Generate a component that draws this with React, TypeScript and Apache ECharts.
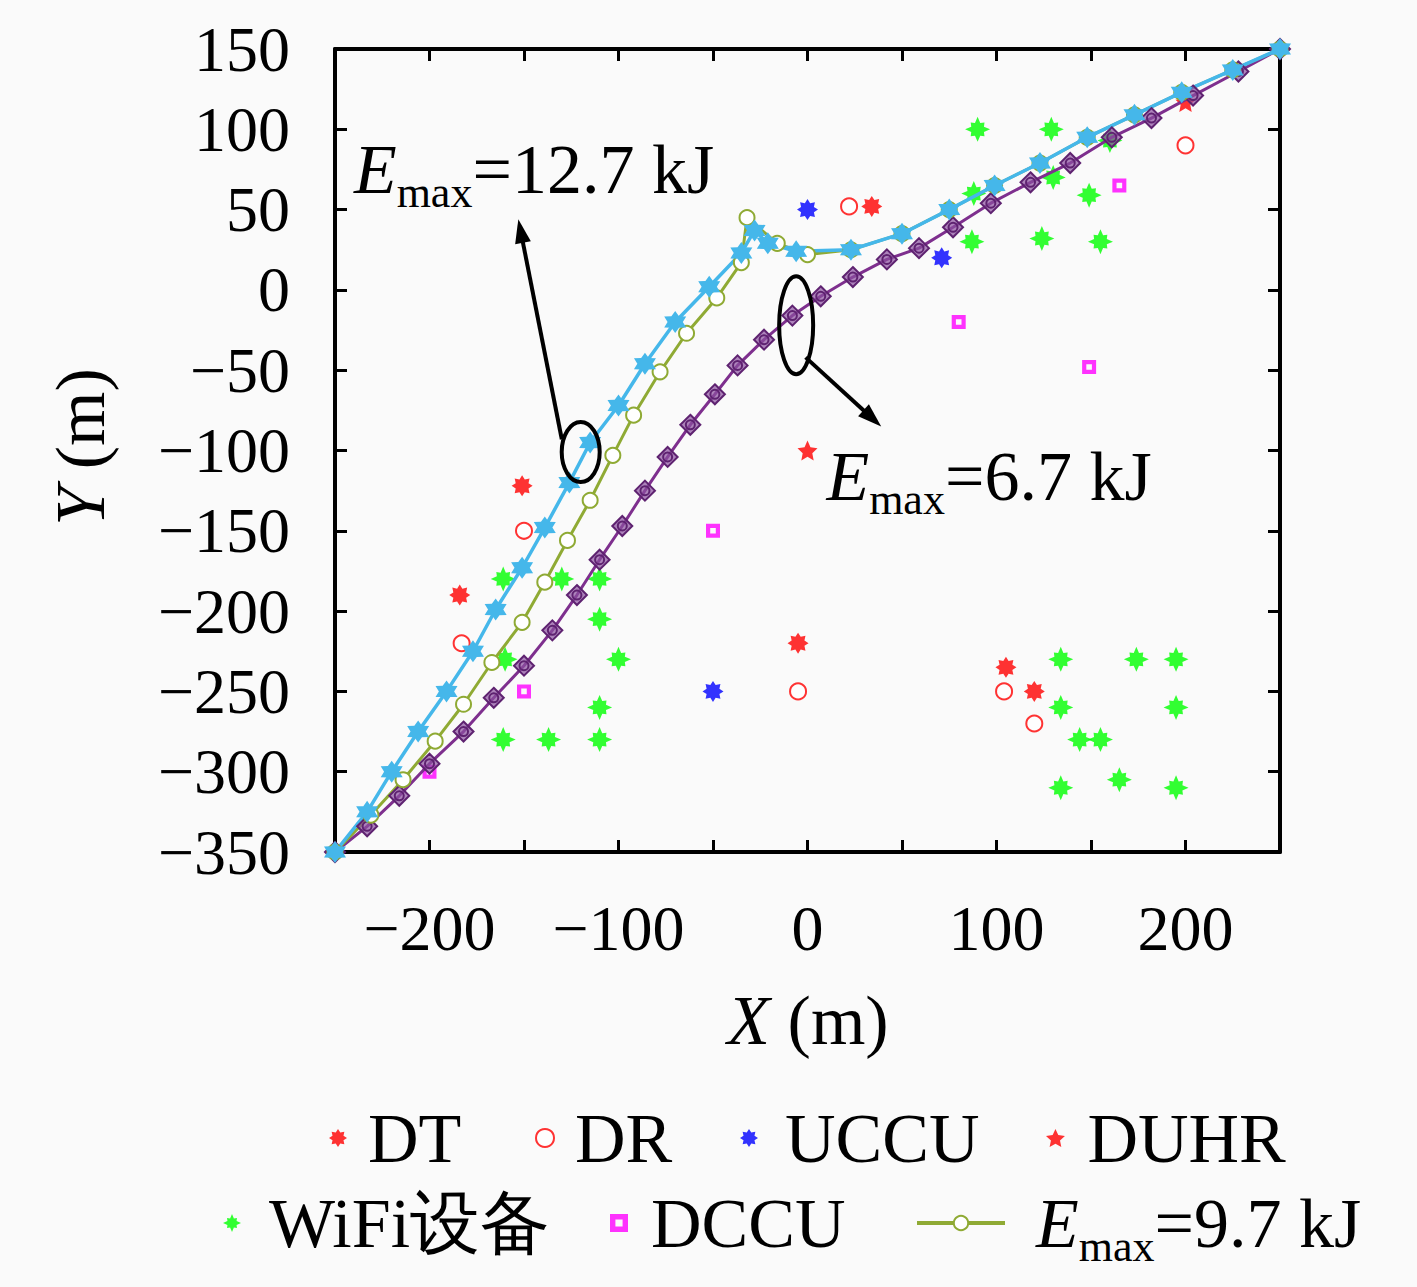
import React, { useEffect, useRef } from "react";
import * as echarts from "echarts";

// ---------------- data ----------------
const traj127: number[][] = [
  [-250, -350], [-233, -325], [-220, -300], [-206, -275], [-191, -250], [-177, -225],
  [-165, -199], [-151, -173], [-139, -148], [-126, -120], [-115, -95], [-100, -72],
  [-86, -46], [-70, -20], [-52, 2], [-35, 23], [-28, 37], [-21, 29], [-6, 24],
  [23, 25], [50, 35], [75, 50], [99, 65], [123, 79], [148, 95], [173, 109],
  [198, 123], [225, 137], [250, 150],
];
const traj97: number[][] = [
  [-250, -350], [-231, -327], [-214, -305], [-197, -281], [-182, -258], [-167, -232],
  [-151, -207], [-139, -182], [-127, -156], [-115, -131], [-103, -103], [-92, -78],
  [-78, -51], [-64, -27], [-48, -5], [-35, 17], [-32, 45], [-16, 29], [0, 22],
  [23, 25], [50, 35], [75, 50], [99, 65], [123, 79], [148, 95], [173, 109],
  [198, 123], [225, 137], [250, 150],
];
const traj67: number[][] = [
  [-250, -350], [-233, -334], [-216, -315], [-200, -295], [-182, -275], [-166, -254],
  [-150, -234], [-135, -212], [-122, -190], [-110, -168], [-98, -147], [-86, -125],
  [-74, -104], [-62, -84], [-49, -65], [-37, -47], [-23, -31], [-8, -16], [7, -4],
  [24, 8], [42, 19], [59, 26], [77, 39], [97, 54], [118, 67], [139, 79], [161, 95],
  [182, 107], [204, 121], [228, 136], [250, 150],
];
const dtPoints: number[][] = [[-151, -122], [-184, -190], [-5, -220], [105, -235], [120, -250], [34, 52]];
const drPoints: number[][] = [[-150, -150], [-183, -220], [-5, -250], [22, 52], [104, -250], [120, -270], [200, 90]];
const uccuPoints: number[][] = [[0, 50], [71, 20], [-50, -250]];
const duhrPoints: number[][] = [[0, -100], [200, 117]];
const wifiPoints: number[][] = [
  [-161, -180], [-130, -180], [-110, -180], [-110, -205], [-100, -230], [-160, -230],
  [-110, -260], [-161, -280], [-137, -280], [-110, -280],
  [134, -230], [174, -230], [195, -230], [134, -260], [195, -260], [144, -280],
  [155, -280], [134, -310], [165, -305], [195, -310],
  [90, 100], [129, 100], [88, 60], [130, 70], [149, 59], [87, 30], [124, 32],
  [155, 30], [160, 93],
];
const dccuPoints: number[][] = [[80, -20], [149, -48], [165, 65], [-50, -150], [-150, -250], [-200, -300]];

const xMin = -250, xMax = 250, xStep = 50;
const yMin = -350, yMax = 150, yStep = 50;
const xLabelStep = 100;

const label127 = "=12.7 kJ";
const label97 = "=9.7 kJ";
const label67 = "=6.7 kJ";

// ---------------- styles ----------------
const FONT = "Liberation Serif";
const BG = "#fafafa";
const CYAN = "#45B7EA";
const OLIVE = "#8FAA34";
const PURPLE = "#7E2F8E";

function starPath(radii: number[]) {
  const n = radii.length;
  const pts = radii.map((r, i) => {
    const a = -Math.PI / 2 + (i * 2 * Math.PI) / n;
    return (r * Math.cos(a) * 50).toFixed(2) + "," + (r * Math.sin(a) * 50).toFixed(2);
  });
  return "path://M" + pts.join("L") + "Z";
}
const asteriskSym = starPath(Array.from({ length: 16 }, (_, i) => (i % 2 === 0 ? 1 : 0.66)));
const hexSym = starPath(Array.from({ length: 12 }, (_, i) => (i % 2 === 0 ? 1 : 0.6)));
const star5Sym = starPath(Array.from({ length: 10 }, (_, i) => (i % 2 === 0 ? 1 : 0.48)));
const wifiSym = starPath(Array.from({ length: 16 }, (_, i) => (i % 2 === 1 ? 0.55 : i % 4 === 0 ? 1 : 0.78)));
const diamondSym = "path://M0,-10L10,0L0,10L-10,0Z M4.5,0A4.5,4.5 0 1,1 -4.5,0A4.5,4.5 0 1,1 4.5,0Z";
const squareSym = "path://M0,0H10V10H0Z M3,3V7H7V3Z";

const fmt = (v: number) => (v < 0 ? "\u2212" + Math.abs(v) : String(v));

const richSub = (c: string, padLeft = 0) => ({
  e: { fontFamily: FONT, fontStyle: "italic", fontSize: 70, lineHeight: 80, color: c, fill: c, padding: [0, 0, 0, padLeft] },
  s: { fontFamily: FONT, fontSize: 44, lineHeight: 44, color: c, fill: c, padding: [46, 0, 0, 0] },
  n: { fontFamily: FONT, fontSize: 70, lineHeight: 80, color: c, fill: c },
});

const axisCommon = {
  type: "value" as const,
  axisLine: { onZero: false, lineStyle: { color: "#000", width: 4 } },
  axisTick: { inside: true, length: 12, lineStyle: { color: "#000", width: 3 } },
  splitLine: { show: false },
};

function legendItem(name: string, left: number, top: number, itemWidth: number, extra: any = {}) {
  return {
    data: [name],
    left,
    top,
    itemWidth,
    itemHeight: 18,
    padding: 0,
    selectedMode: false,
    textStyle: { fontFamily: FONT, fontSize: 70, color: "#000", lineHeight: 80 },
    ...extra,
  };
}

const option: any = {
  animation: false,
  backgroundColor: BG,
  grid: { left: 335, right: 137, top: 49, bottom: 435, containLabel: false, outerBoundsMode: "none" },
  xAxis: [
    {
      ...axisCommon, min: xMin, max: xMax, interval: xStep, position: "bottom",
      axisLabel: {
        formatter: (v: number) => (v % xLabelStep === 0 && v > xMin && v < xMax ? fmt(v) : ""),
        fontFamily: FONT, fontSize: 64, color: "#000", margin: 40, lineHeight: 72,
      },
    },
    { ...axisCommon, min: xMin, max: xMax, interval: xStep, position: "top", axisLabel: { show: false } },
  ],
  yAxis: [
    {
      ...axisCommon, min: yMin, max: yMax, interval: yStep, position: "left",
      axisLabel: { formatter: (v: number) => fmt(v), fontFamily: FONT, fontSize: 64, color: "#000", margin: 45 },
    },
    { ...axisCommon, min: yMin, max: yMax, interval: yStep, position: "right", axisLabel: { show: false } },
  ],
  legend: [
    legendItem("DT", 329, 1098, 50),
    legendItem("DR", 535, 1098, 50),
    legendItem("UCCU", 740, 1098, 62),
    legendItem("DUHR", 1046, 1098, 54),
    legendItem("WiFi设备", 223, 1183, 64),
    legendItem("DCCU", 610, 1183, 54),
    legendItem("Emax=9.7 kJ", 915, 1178, 88, {
      formatter: () => "{e|E}{s|max}{n|" + label97 + "}",
      textStyle: { fontFamily: FONT, fontSize: 70, color: "#000", rich: richSub("#000", 26) },
      lineStyle: { width: 4 },
    }),
  ],
  series: [
    { name: "DCCU", type: "scatter", data: dccuPoints, symbol: squareSym, symbolSize: 14,
      itemStyle: { color: "#FF00FF" } },
    { name: "WiFi设备", type: "scatter", data: wifiPoints, symbol: wifiSym, symbolSize: 25, itemStyle: { color: "#00FF00" } },
    { name: "DT", type: "scatter", data: dtPoints, symbol: asteriskSym, symbolSize: 21, itemStyle: { color: "#FF0000" } },
    { name: "DR", type: "scatter", data: drPoints, symbol: "emptyCircle", symbolSize: 16,
      itemStyle: { color: "#FF0000", borderColor: "#FF0000", borderWidth: 3 } },
    { name: "UCCU", type: "scatter", data: uccuPoints, symbol: asteriskSym, symbolSize: 21, itemStyle: { color: "#0000FF" } },
    { name: "DUHR", type: "scatter", data: duhrPoints, symbol: star5Sym, symbolSize: 20, itemStyle: { color: "#FF0000" } },
    { name: "Emax=6.7 kJ", type: "line", data: traj67, symbol: diamondSym, symbolSize: 20, showSymbol: true,
      lineStyle: { color: PURPLE, width: 3 },
      itemStyle: { color: "rgba(140,80,160,0.7)", borderColor: "#5E2270", borderWidth: 2 } },
    { name: "Emax=9.7 kJ", type: "line", data: traj97, symbol: "emptyCircle", symbolSize: 15, showSymbol: true,
      lineStyle: { color: OLIVE, width: 3 },
      itemStyle: { color: OLIVE, borderColor: OLIVE, borderWidth: 2.5 } },
    { name: "Emax=12.7 kJ", type: "line", data: traj127, symbol: hexSym, symbolSize: 22, showSymbol: true,
      lineStyle: { color: CYAN, width: 3.5 }, itemStyle: { color: CYAN } },
  ],
};

// annotation anchors in data coordinates
const annoEllipses = [
  { c: [-120, -101], rx: 19, ry: 30 },
  { c: [-6, -22], rx: 17, ry: 49 },
];
const annoArrows = [
  { from: [-130, -93], to: [-153, 44] },
  { from: [-1, -42], to: [39, -85] },
];
const annoLabels = [
  { at: [-240, 75], text: label127 },
  { at: [10, -116], text: label67 },
];

export default function App() {
  const ref = useRef<HTMLDivElement>(null);
  useEffect(() => {
    document.body.style.margin = "0";
    document.body.style.background = BG;
    const chart = echarts.init(ref.current!, null, { renderer: "svg" });
    chart.setOption(option);
    const px = (p: number[]) => chart.convertToPixel({ xAxisIndex: 0, yAxisIndex: 0 }, p) as number[];
    const graphics: any[] = [];
    annoEllipses.forEach((e) => {
      const c = px(e.c);
      graphics.push({ type: "ellipse", shape: { cx: c[0], cy: c[1], rx: e.rx, ry: e.ry },
        style: { fill: "none", stroke: "#000", lineWidth: 4 }, z: 100 });
    });
    annoArrows.forEach((a) => {
      const f = px(a.from), t = px(a.to);
      const dx = t[0] - f[0], dy = t[1] - f[1];
      const len = Math.hypot(dx, dy);
      const ux = dx / len, uy = dy / len;
      const hl = 24, hw = 8;
      const bx = t[0] - hl * ux, by = t[1] - hl * uy;
      graphics.push({ type: "line", shape: { x1: f[0], y1: f[1], x2: bx + ux * 4, y2: by + uy * 4 },
        style: { stroke: "#000", lineWidth: 4 }, z: 100 });
      graphics.push({ type: "polygon", shape: { points: [[t[0], t[1]], [bx - hw * uy, by + hw * ux], [bx + hw * uy, by - hw * ux]] },
        style: { fill: "#000" }, z: 100 });
    });
    annoLabels.forEach((l) => {
      const p = px(l.at);
      graphics.push({ type: "text", x: p[0], y: p[1], z: 100,
        style: { text: "{e|E}{s|max}{n|" + l.text + "}", rich: richSub("#000"), align: "left", verticalAlign: "middle",
          fontFamily: FONT, fontSize: 70, fill: "#000" } });
    });
    graphics.push({ type: "text", x: 808, y: 1020, z: 100,
      style: { text: "{i|X} (m)", rich: { i: { fontFamily: FONT, fontStyle: "italic", fontSize: 70, fill: "#000" } },
        fontFamily: FONT, fontSize: 70, fill: "#000", align: "center", verticalAlign: "middle" } });
    graphics.push({ type: "text", x: 80, y: 447, rotation: Math.PI / 2, z: 100,
      style: { text: "{i|Y} (m)", rich: { i: { fontFamily: FONT, fontStyle: "italic", fontSize: 70, fill: "#000" } },
        fontFamily: FONT, fontSize: 70, fill: "#000", align: "center", verticalAlign: "middle" } });
    chart.setOption({ graphic: graphics });
    return () => chart.dispose();
  }, []);
  return <div ref={ref} style={{ width: 1417, height: 1287 }} />;
}
